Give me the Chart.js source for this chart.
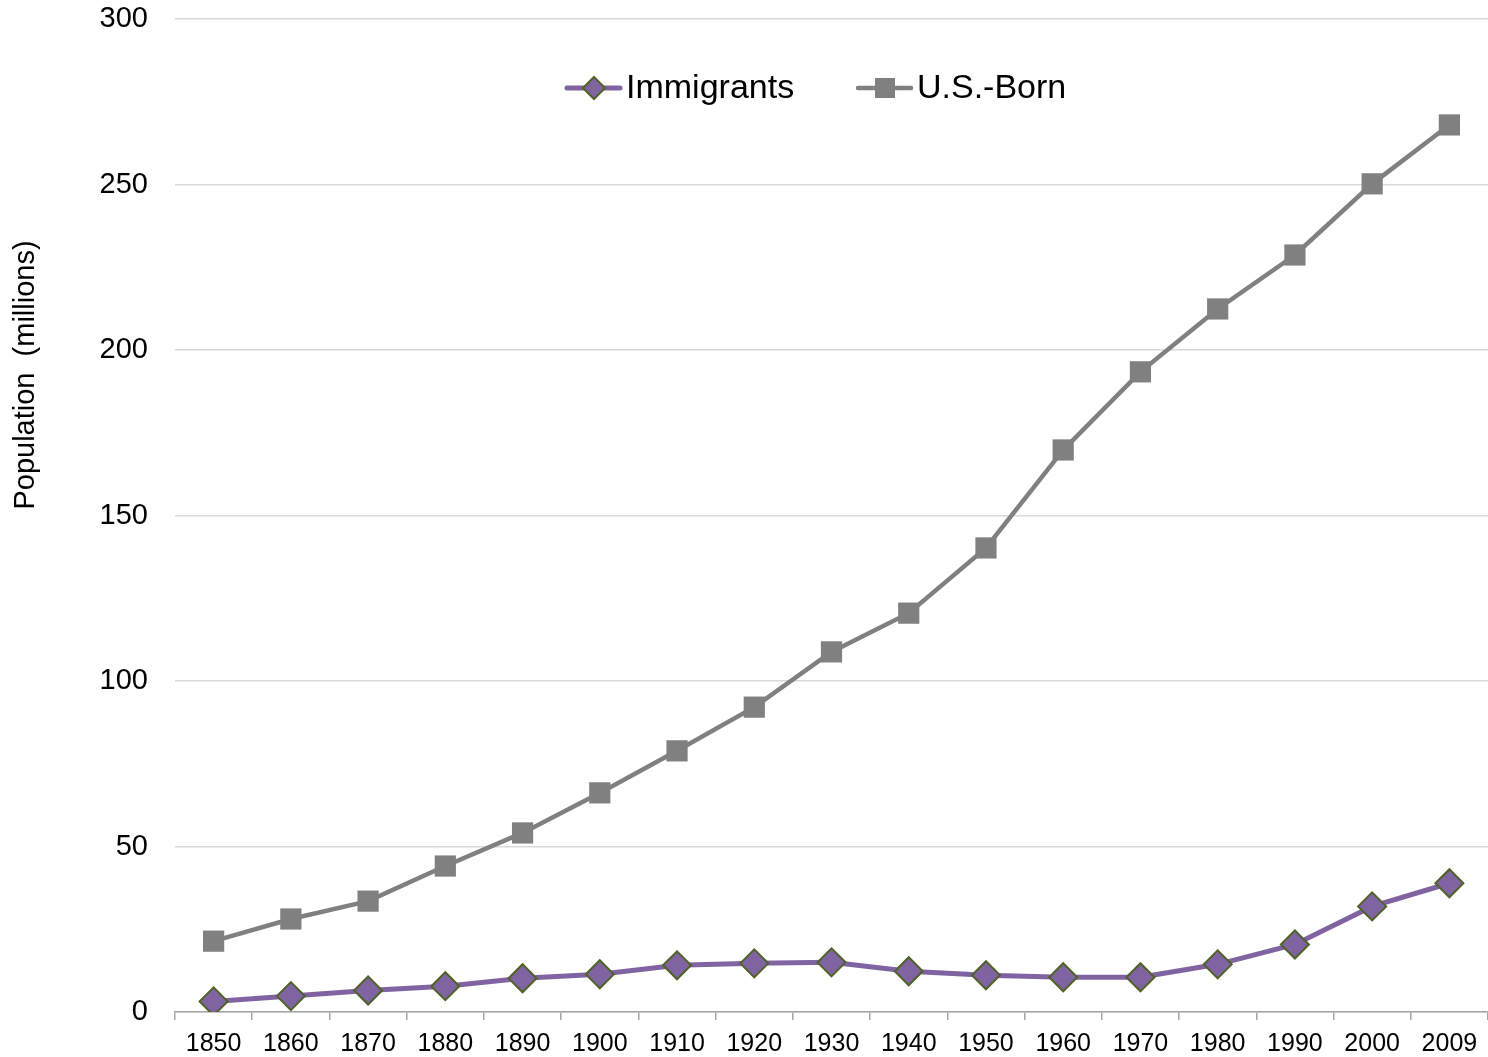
<!DOCTYPE html>
<html>
<head>
<meta charset="utf-8">
<script src="https://cdn.jsdelivr.net/npm/chart.js@4.4.0/dist/chart.umd.min.js"></script>
<style>
  html, body { margin: 0; padding: 0; background: #fff; overflow: hidden; }
  canvas { display: block; }
</style>
</head>
<body>
<canvas id="popChart" width="1488" height="1057"></canvas>
<script>
const years = ['1850', '1860', '1870', '1880', '1890', '1900', '1910', '1920', '1930',
               '1940', '1950', '1960', '1970', '1980', '1990', '2000', '2009'];
const immigrants = [3.2, 4.8, 6.5, 7.8, 10.2, 11.4, 14.1, 14.7, 15.0,
                    12.3, 11.1, 10.5, 10.5, 14.4, 20.4, 31.9, 38.9];
const usBorn = [21.4, 28.1, 33.5, 44.1, 54.1, 66.2, 78.9, 92.1, 108.8,
                120.5, 140.2, 169.8, 193.4, 212.4, 228.7, 250.2, 268.0];
const yTicks = [0, 50, 100, 150, 200, 250, 300];
const yTitle = 'Population  (millions)';

const FONT = '"Liberation Sans", Arial, sans-serif';

document.addEventListener('DOMContentLoaded', () => {
    const ctx = document.getElementById('popChart').getContext('2d');

    // legend drawn by hand: line + marker + label, like the office chart
    // (the y title sits above centre in the original, so it's drawn here too)
    const lineLegend = {
        id: 'lineLegend',
        afterDraw(chart) {
            const c = chart.ctx;
            const items = [
                { ds: chart.data.datasets[0], x: 567 },
                { ds: chart.data.datasets[1], x: 858 }
            ];
            const y = 88;
            c.save();
            items.forEach(it => {
                const ds = it.ds;
                const mx = it.x + 27;
                c.strokeStyle = ds.borderColor;
                c.lineWidth = ds.borderWidth;
                c.lineCap = 'round';
                c.beginPath();
                c.moveTo(it.x, y);
                c.lineTo(it.x + 53, y);
                c.stroke();
                c.fillStyle = ds.pointBackgroundColor;
                c.strokeStyle = ds.pointBorderColor;
                c.lineWidth = ds.pointBorderWidth;
                c.beginPath();
                if (ds.pointStyle === 'rectRot') {
                    const r = 11;
                    c.moveTo(mx, y - r);
                    c.lineTo(mx + r, y);
                    c.lineTo(mx, y + r);
                    c.lineTo(mx - r, y);
                    c.closePath();
                    c.fill();
                    c.stroke();
                } else {
                    c.rect(mx - 10, y - 10, 20, 20);
                    c.fill();
                }
                c.fillStyle = '#000';
                c.font = '34px ' + FONT;
                c.textAlign = 'left';
                c.textBaseline = 'middle';
                c.fillText(ds.label, it.x + 59, y + 1);
            });

            c.translate(26, 375);
            c.rotate(-Math.PI / 2);
            c.fillStyle = '#000';
            c.font = '29px ' + FONT;
            c.textAlign = 'center';
            c.textBaseline = 'middle';
            c.fillText(yTitle, 0, 0);
            c.restore();
        }
    };

    new Chart(ctx, {
        type: 'line',
        data: {
            labels: years,
            datasets: [{
                label: 'Immigrants',
                data: immigrants,
                borderColor: '#8064A2',
                borderWidth: 5,
                pointStyle: 'rectRot',
                pointRadius: 14,
                pointHoverRadius: 14,
                pointBackgroundColor: '#8064A2',
                pointBorderColor: '#4F6228',
                pointBorderWidth: 2,
                tension: 0
            }, {
                label: 'U.S.-Born',
                data: usBorn,
                borderColor: '#808080',
                borderWidth: 4.5,
                pointStyle: 'rect',
                pointRadius: 15,
                pointHoverRadius: 15,
                pointBackgroundColor: '#808080',
                pointBorderColor: '#808080',
                pointBorderWidth: 0,
                tension: 0
            }]
        },
        options: {
            responsive: false,
            animation: false,
            devicePixelRatio: 1,
            layout: { autoPadding: false, padding: { top: 19, right: -5, left: 0, bottom: 0 } },
            plugins: {
                legend: { display: false },
                tooltip: { enabled: false }
            },
            scales: {
                x: {
                    offset: true,
                    grid: {
                        offset: true,
                        drawOnChartArea: false,
                        drawTicks: true,
                        tickLength: 8,
                        color: '#A6A6A6',
                        lineWidth: 1.5
                    },
                    border: { display: true, color: '#A6A6A6', width: 1.5 },
                    ticks: {
                        color: '#000',
                        font: { family: FONT, size: 25 },
                        padding: 9,
                        maxRotation: 0,
                        autoSkip: false
                    },
                    afterFit(scale) {
                        scale.height = 45;
                        scale.paddingLeft = 0;
                        scale.paddingRight = 0;
                    }
                },
                y: {
                    min: 0,
                    max: 300,
                    afterBuildTicks(scale) {
                        scale.ticks = yTicks.map(v => ({ value: v }));
                    },
                    grid: {
                        color: '#D9D9D9',
                        lineWidth: 1.5,
                        drawTicks: false
                    },
                    border: { display: false },
                    ticks: {
                        color: '#000',
                        font: { family: FONT, size: 29 },
                        padding: 27
                    },
                    afterFit(scale) {
                        scale.width = 175;
                        scale.paddingTop = 0;
                        scale.paddingBottom = 0;
                    }
                }
            }
        },
        plugins: [lineLegend]
    });
});
</script>
</body>
</html>
